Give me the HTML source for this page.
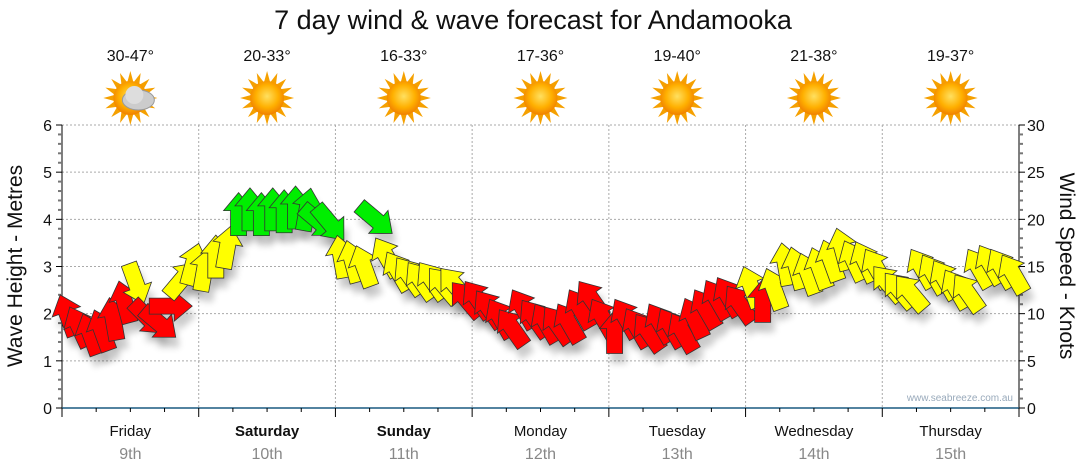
<!DOCTYPE html>
<html><head><meta charset="utf-8"><style>
html,body{margin:0;padding:0;background:#fff;}
svg{display:block;font-family:"Liberation Sans",sans-serif;}
</style></head><body>
<svg id="chart" width="1080" height="475" viewBox="0 0 1080 475" xmlns="http://www.w3.org/2000/svg">
<defs>
<filter id="sh" x="-50%" y="-50%" width="200%" height="200%"><feGaussianBlur stdDeviation="3.5"/></filter>
<radialGradient id="sun" cx="50%" cy="45%" r="55%"><stop offset="0" stop-color="#ffe060"/><stop offset="0.6" stop-color="#ffb000"/><stop offset="1" stop-color="#f08000"/></radialGradient>
</defs>
<text x="533" y="29" text-anchor="middle" font-size="27" fill="#111">7 day wind &amp; wave forecast for Andamooka</text>
<g id="grid"></g>
<g id="icons"></g>
<g id="axes"></g>
<g id="marks"></g>
<text transform="translate(22,266) rotate(-90)" text-anchor="middle" font-size="21" fill="#111">Wave Height - Metres</text>
<text transform="translate(1060,266) rotate(90)" text-anchor="middle" font-size="21" fill="#111">Wind Speed - Knots</text>
<text x="1013" y="401" text-anchor="end" font-size="10" fill="#9ab">www.seabreeze.com.au</text>
</svg>
<script>
const days = ["Friday","Saturday","Sunday","Monday","Tuesday","Wednesday","Thursday"];
const dates = ["9th","10th","11th","12th","13th","14th","15th"];
const weekend = [false,true,true,false,false,false,false];
const temps = ["30-47°","20-33°","16-33°","17-36°","19-40°","21-38°","19-37°"];
const leftTicks = [0,1,2,3,4,5,6];
const rightTicks = [0,5,10,15,20,25,30];
// wind speed (knots), 2-hourly, 12 per day
const windSpeed = [
 9.8,8.6,7.8,8.2,9.4,11.2,13.2,9.6,9,10.8,13.6,15.2,
 14.6,16,17,20.5,21,20.5,21,20.8,21.2,21,19.8,19.6,
 16,15.5,15,20,16,14.5,14,13.5,13.5,13,13,11.5,
 11.5,10.5,9.5,8.5,10.5,9.5,9,8.8,9,10.5,11.5,9.5,
 8,9.5,8.5,8,9,8.5,8,9.5,10.5,11.5,11.8,11,
 12.8,11.3,12.6,15.2,14.8,14.2,14.8,15.6,16.8,15.6,15.5,14.8,
 13.2,12.5,12.2,14.8,14.2,13.6,12.6,12.2,14.8,15.2,14.8,14.2
];
// direction arrow points (degrees clockwise from up)
const windDir = [
 -20,-25,-20,-20,-10,-15,160,135,130,90,40,15,
 10,0,10,0,0,0,0,0,0,10,130,140,
 -10,-15,-20,130,-30,-30,-35,-35,-35,-40,-40,-40,
 -35,-35,-30,-35,-30,-35,-30,-35,-30,-30,-35,-30,
 0,-30,-30,-35,-30,-30,-30,-25,-30,-30,-30,-35,
 -20,0,-20,-10,-15,-20,-20,-20,-15,-25,-25,-30,
 -40,-40,-40,-30,-30,-30,-30,-35,-30,-30,-30,-30
];
const NS="http://www.w3.org/2000/svg";
const X0=62,X1=1019,Y0=408,Y1=125;
const dayW=(X1-X0)/7;
const xT=t=>X0+t*dayW;
const yL=v=>Y0-(v/6)*(Y0-Y1);
const yR=v=>Y0-(v/30)*(Y0-Y1);
function el(tag,attrs,parent){const e=document.createElementNS(NS,tag);for(const k in attrs)e.setAttribute(k,attrs[k]);parent.appendChild(e);return e;}
const grid=document.getElementById('grid'),axes=document.getElementById('axes'),icons=document.getElementById('icons'),marks=document.getElementById('marks');
leftTicks.forEach(v=>{if(v>0){const l=el('line',{x1:X0,x2:X1,y1:yL(v),y2:yL(v),stroke:'#aaa','stroke-dasharray':'2,2'},grid);

}});
for(let d=1;d<7;d++){const l=el('line',{x1:xT(d),x2:xT(d),y1:Y1,y2:Y0,stroke:'#aaa','stroke-dasharray':'2,2'},grid);

}
el('line',{x1:X0,x2:X0,y1:Y1,y2:Y0+8,stroke:'#000'},axes);
for(let i=0;i<=30;i++){const y=Y0-i*(Y0-Y1)/30;el('line',{x1:X0-(i%5==0?6:4),x2:X0,y1:y,y2:y,stroke:i%5==0?'#000':'#777','stroke-width':i%5==0?1:2},axes);}
leftTicks.forEach(v=>{const t=el('text',{x:X0-10,y:yL(v)+6,'text-anchor':'end','font-size':16,fill:'#111'},axes);t.textContent=v;

});
el('line',{x1:X1,x2:X1,y1:Y1,y2:Y0,stroke:'#000'},axes);
for(let i=0;i<=30;i++){const y=yR(i);el('line',{x1:X1,x2:X1+(i%5==0?6:4),y1:y,y2:y,stroke:i%5==0?'#000':'#777','stroke-width':i%5==0?1:2},axes);}
rightTicks.forEach(v=>{const t=el('text',{x:X1+8,y:yR(v)+6,'font-size':16,fill:'#111'},axes);t.textContent=v;

});
el('line',{x1:X0,x2:X1,y1:Y0,y2:Y0,stroke:'#1a5a80','stroke-width':1.5},axes);
for(let q=0;q<=28;q++){const x=xT(q/4);el('line',{x1:x,x2:x,y1:Y0,y2:Y0+(q%4==0?9:4),stroke:'#000'},axes);}
days.forEach((d,i)=>{const cx=xT(i+0.5);
const t=el('text',{x:cx,y:436,'text-anchor':'middle','font-size':15,fill:'#111','font-weight':weekend[i]?'bold':'normal'},axes);t.textContent=d;


const t2=el('text',{x:cx,y:459,'text-anchor':'middle','font-size':16,fill:'#888'},axes);t2.textContent=dates[i];


const t3=el('text',{x:cx,y:61,'text-anchor':'middle','font-size':16,fill:'#111'},icons);t3.textContent=temps[i];


const g=el('g',{transform:`translate(${cx},98)`},icons);


for(let r=0;r<16;r++){const a=r*22.5;el('polygon',{points:'-3,-16 3,-16 0,-27',fill:'#f5a000',transform:`rotate(${a})`},g);}
el('circle',{r:17,fill:'url(#sun)'},g);
if(i==0){el('ellipse',{cx:8,cy:2,rx:16,ry:10,fill:'#ccc',stroke:'#999'},g);el('circle',{cx:4,cy:-3,r:9,fill:'#ddd'},g);}
});
function col(s){return s<12?'#ff0000':(s<19.5?'#ffff00':'#00ee00');}
const shape='M0,-22 L15,-4 L8,-4 L8,21 L-8,21 L-8,-4 L-15,-4 Z';
windSpeed.forEach((s,i)=>{const x=xT((i+0.5)/12),y=yR(s);
el('path',{d:shape,fill:'#000',opacity:0.2,filter:'url(#sh)',transform:`translate(${x+4},${y+10}) rotate(${windDir[i]})`},marks);});
windSpeed.forEach((s,i)=>{const x=xT((i+0.5)/12),y=yR(s);
const p=el('path',{d:shape,fill:col(s),stroke:'#333','stroke-width':0.8,transform:`translate(${x},${y}) rotate(${windDir[i]})`},marks);

});
</script>
</body></html>
